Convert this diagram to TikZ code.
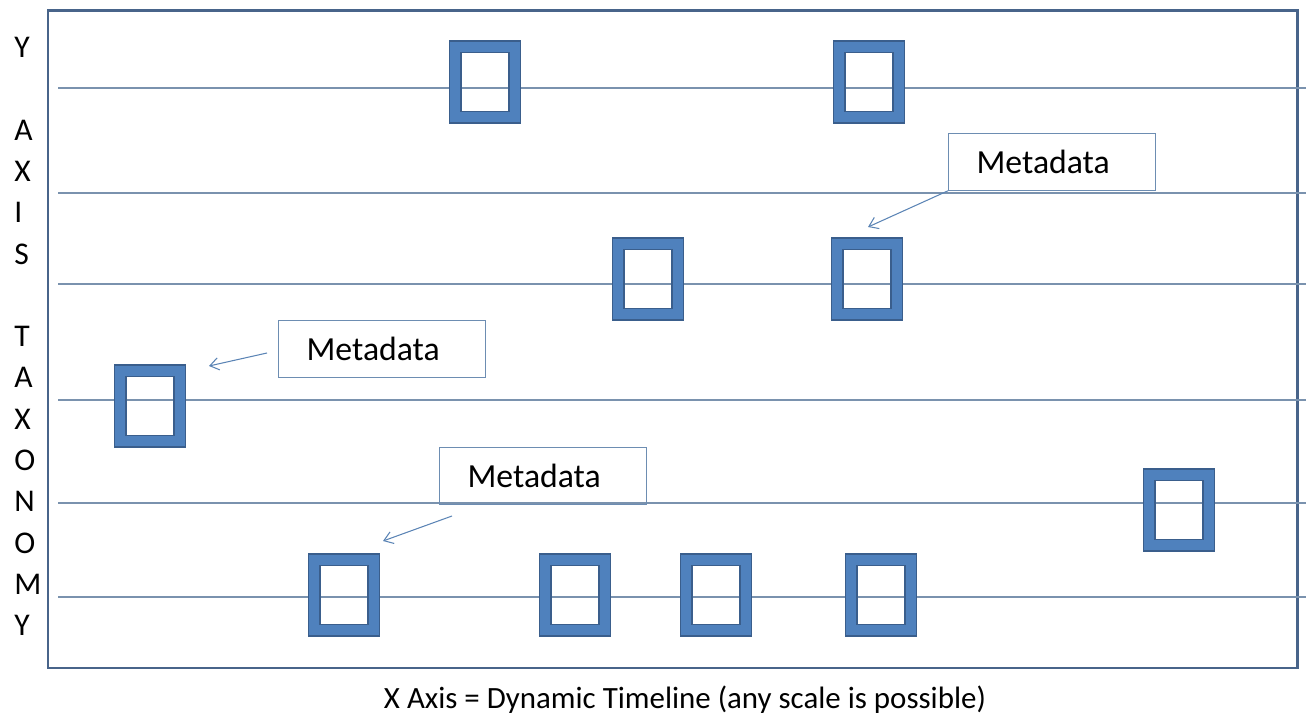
\documentclass[tikz,border=0pt]{standalone}
\usepackage{fontspec}
\setmainfont{Carlito}
\usepackage{tikz}
\usetikzlibrary{arrows.meta}

\definecolor{framecol}{HTML}{48648A}
\definecolor{gridcol}{HTML}{7A92AE}
\definecolor{boxfill}{HTML}{4F81BD}
\definecolor{boxedge}{HTML}{3A5E8C}
\definecolor{metaedge}{HTML}{6D8DB2}
\definecolor{arrowcol}{HTML}{5B84B5}

\tikzset{
    slot/.style={draw=boxedge, double=boxfill, double distance=5.6pt, line width=0.9pt,
        line join=miter, minimum width=34pt, minimum height=40pt, inner sep=0pt},
    metabox/.style={draw=metaedge, line width=0.6pt, anchor=north west, inner xsep=16pt,
        inner ysep=0pt, text width=86pt, align=left, minimum height=32.3pt,
        font=\fontsize{19.2}{23}\selectfont},
    pointer/.style={draw=arrowcol, line width=0.6pt, -{Straight Barb[length=5pt,width=7pt]}},
    gridline/.style={draw=gridcol, line width=0.7pt}
}

\begin{document}
\begin{tikzpicture}[x=0.02cm, y=-0.02cm, font=\fontsize{18}{22}\selectfont]
    \useasboundingbox (0,0) rectangle (1311,722);

    \draw[framecol, line width=1.7pt] (48,11) rectangle (1297,668);
    \foreach \yl in {88,193,284,400,503,597}
        \draw[gridline] (58,\yl) -- (1306,\yl);

    \node[slot] (b1) at (485,82) {};
    \node[slot] (b2) at (869,82) {};
    \node[slot] (b3) at (648,279) {};
    \node[slot] (b4) at (867,279) {};
    \node[slot] (b5) at (150,406) {};
    \node[slot] (b6) at (1179,510) {};
    \node[slot] (b7) at (344,595) {};
    \node[slot] (b8) at (575,595) {};
    \node[slot] (b9) at (716,595) {};
    \node[slot] (b10) at (881,595) {};

    \node[metabox] (metaA) at (948,133) {Metadata};
    \node[metabox] (metaB) at (278,320) {Metadata};
    \node[metabox] (metaC) at (439,447) {Metadata};

    \coordinate (tipA) at (868,227);
    \coordinate (tailB) at (267,353);
    \coordinate (tipB) at (209,366);
    \coordinate (tailC) at (452,516);
    \coordinate (tipC) at (383,541);
    \draw[pointer] (metaA.south west) -- (tipA);
    \draw[pointer] (tailB) -- (tipB);
    \draw[pointer] (tailC) -- (tipC);

    \node[anchor=north west, inner sep=0pt, align=left,
        font=\fontsize{18}{23.5}\selectfont] (yaxis) at (14,37)
        {Y\\[23.5pt]A\\X\\I\\S\\[23.5pt]T\\A\\X\\O\\N\\O\\M\\Y};
    \node[font=\fontsize{17.6}{21}\selectfont] (xaxis) at (685,700)
        {X Axis = Dynamic Timeline (any scale is possible)};
\end{tikzpicture}
\end{document}
